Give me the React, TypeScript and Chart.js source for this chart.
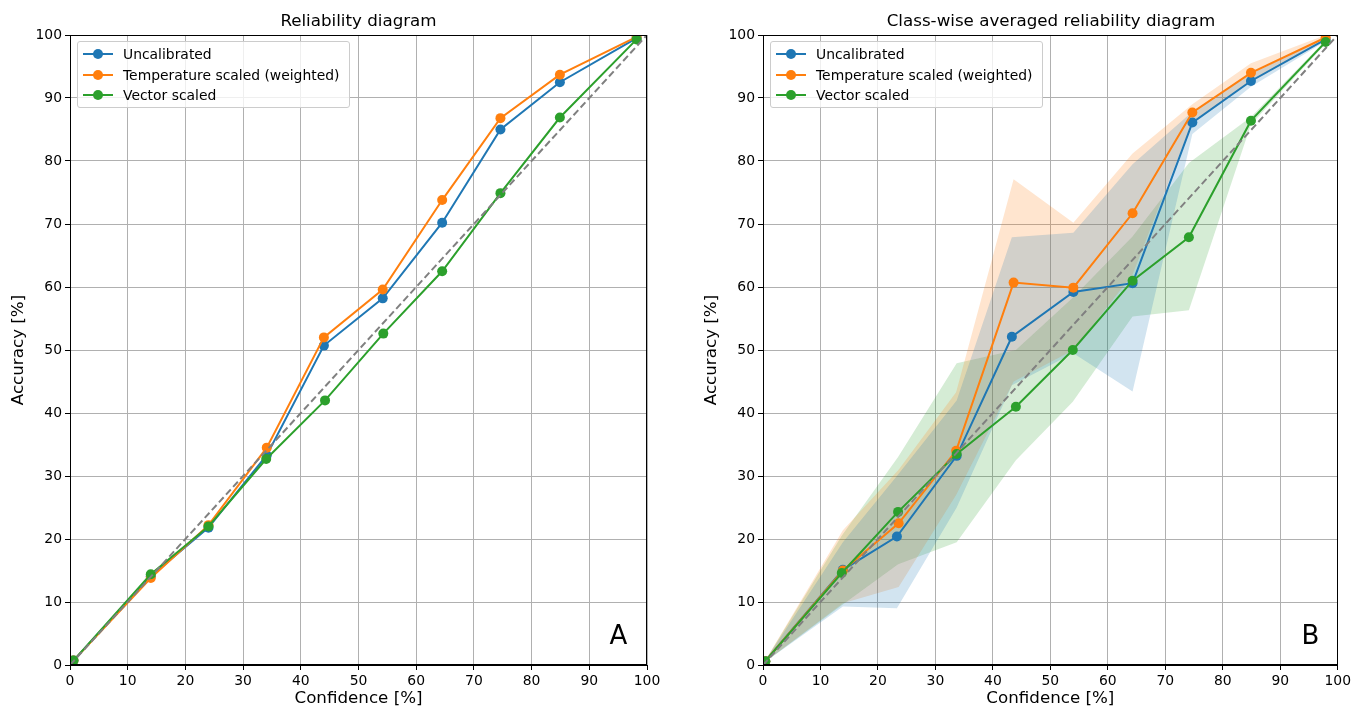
import React, { useEffect, useRef } from "react";
import { Chart, registerables } from "chart.js";

Chart.register(...registerables);
Chart.defaults.font.family = "DejaVu Sans";

// ---------- data ----------
const seriesNames = ["Uncalibrated", "Temperature scaled (weighted)", "Vector scaled"];
const seriesColors = ["#1f77b4", "#ff7f0e", "#2ca02c"];
const bandColors = ["rgba(31,119,180,0.2)", "rgba(255,127,14,0.2)", "rgba(44,160,44,0.2)"];
const tickValues = [0, 10, 20, 30, 40, 50, 60, 70, 80, 90, 100];
const diagonal = [0, 100];
const titles = ["Reliability diagram", "Class-wise averaged reliability diagram"];
const panelLetters = ["A", "B"];

// Panel A: reliability diagram
const aUncalX = [0.6, 14.0, 24.0, 34.1, 44.0, 54.2, 64.5, 74.6, 84.9, 98.2];
const aUncalY = [0.7, 14.1, 21.8, 33.3, 50.7, 58.2, 70.2, 85.0, 92.5, 99.5];
const aTempX = [0.6, 14.0, 24.0, 34.1, 44.0, 54.2, 64.5, 74.6, 84.9, 98.2];
const aTempY = [0.7, 13.8, 22.2, 34.5, 52.0, 59.6, 73.8, 86.8, 93.7, 99.7];
const aVecX = [0.6, 14.0, 24.0, 34.0, 44.2, 54.3, 64.5, 74.6, 84.9, 98.2];
const aVecY = [0.7, 14.4, 22.0, 32.7, 42.0, 52.6, 62.5, 74.9, 86.9, 99.3];

// Panel B: class-wise averaged reliability diagram
const bUncalX = [0.4, 13.9, 23.3, 33.7, 43.3, 54.0, 64.3, 74.7, 84.9, 97.9];
const bUncalY = [0.6, 15.1, 20.4, 33.2, 52.1, 59.2, 60.6, 86.1, 92.7, 99.3];
const bUncalHi = [0.7, 19.5, 30.0, 42.0, 67.9, 68.6, 79.5, 87.8, 93.8, 99.6];
const bUncalLo = [0.5, 9.3, 9.0, 25.0, 44.4, 49.5, 43.4, 84.3, 91.8, 99.0];

const bTempX = [0.4, 13.9, 23.6, 33.6, 43.6, 54.0, 64.3, 74.7, 84.9, 97.9];
const bTempY = [0.6, 15.0, 22.5, 34.0, 60.7, 59.9, 71.7, 87.7, 94.0, 99.6];
const bTempHi = [0.7, 21.4, 31.0, 43.3, 77.1, 70.2, 81.2, 89.0, 95.5, 100.0];
const bTempLo = [0.5, 9.8, 12.4, 27.0, 45.0, 50.0, 62.0, 86.3, 92.5, 99.2];

const bVecX = [0.4, 13.7, 23.5, 33.7, 44.0, 53.9, 64.3, 74.1, 84.9, 97.9];
const bVecY = [0.6, 14.6, 24.3, 33.5, 41.0, 50.0, 61.0, 67.9, 86.4, 98.9];
const bVecHi = [0.7, 20.5, 33.0, 47.9, 50.0, 58.3, 68.0, 79.7, 87.0, 99.2];
const bVecLo = [0.5, 9.5, 16.0, 19.5, 32.5, 41.8, 55.3, 56.3, 85.8, 98.6];

// ---------- helpers ----------
const pts = (xs: number[], ys: number[]) => xs.map((x, i) => ({ x, y: ys[i] }));

type Series = { x: number[]; y: number[]; hi?: number[]; lo?: number[] };

const framePlugin = {
  id: "frame",
  afterDraw(chart: any) {
    const { ctx, chartArea } = chart;
    const l = Math.round(chartArea.left) + 0.5;
    const t = Math.round(chartArea.top) + 0.5;
    const r = Math.round(chartArea.right) - 0.5;
    const b = Math.round(chartArea.bottom) - 0.5;
    ctx.save();
    ctx.strokeStyle = "#000";
    ctx.lineWidth = 1;
    ctx.strokeRect(l, t, r - l, b - t);
    ctx.restore();
  },
};

function makeConfig(series: Series[], rightPad: number) {
  const datasets: any[] = [];
  series.forEach((s, i) => {
    datasets.push({
      label: seriesNames[i],
      data: pts(s.x, s.y),
      borderColor: seriesColors[i],
      backgroundColor: seriesColors[i],
      pointBackgroundColor: seriesColors[i],
      pointBorderColor: seriesColors[i],
      pointBorderWidth: 0,
      pointRadius: 5,
      borderWidth: 2,
      fill: false,
      tension: 0,
      order: 3 - i,
    });
  });
  datasets.push({
    label: "diagonal",
    data: pts(diagonal, diagonal),
    borderColor: "#808080",
    borderDash: [7, 3.5],
    borderWidth: 2,
    pointRadius: 0,
    fill: false,
    order: -1,
  });
  series.forEach((s, i) => {
    if (!s.hi || !s.lo) return;
    datasets.push({
      label: "hi" + i,
      data: pts(s.x, s.hi),
      borderColor: "transparent",
      borderWidth: 0,
      pointRadius: 0,
      fill: false,
      order: 10,
    });
    datasets.push({
      label: "lo" + i,
      data: pts(s.x, s.lo),
      borderColor: "transparent",
      backgroundColor: bandColors[i],
      borderWidth: 0,
      pointRadius: 0,
      fill: "-1",
      order: 10,
    });
  });

  const axisCommon = (titleText: string, isX: boolean) => ({
    type: "linear",
    min: 0,
    max: 100,
    afterBuildTicks: (scale: any) => {
      scale.ticks = tickValues.map((v) => ({ value: v }));
    },
    afterFit: (scale: any) => {
      if (isX) scale.height = 44;
      else scale.width = 70;
    },
    ticks: {
      color: "#000",
      font: { size: 13.9 },
      padding: 3,
      maxRotation: 0,
      autoSkip: false,
      callback: (v: number) => String(v),
    },
    grid: {
      color: "#b0b0b0",
      lineWidth: 1,
      drawTicks: true,
      tickLength: 5,
      tickColor: "#000",
      tickWidth: 1,
    },
    border: { display: true, color: "#000", width: 1 },
    title: {
      display: true,
      text: titleText,
      color: "#000",
      font: { size: 16.7 },
      padding: isX ? { top: 0, bottom: 0 } : { top: 9, bottom: 0 },
    },
  });

  return {
    type: "line",
    data: { datasets },
    options: {
      animation: false,
      responsive: false,
      devicePixelRatio: 1,
      layout: { padding: { left: 0, right: rightPad, top: 35, bottom: 0 } },
      scales: {
        x: axisCommon("Confidence [%]", true),
        y: axisCommon("Accuracy [%]", false),
      },
      plugins: {
        legend: { display: false },
        tooltip: { enabled: false },
        title: { display: false },
      },
    },
    plugins: [framePlugin],
  };
}

function ChartCanvas(props: { left: number; width: number; config: any }) {
  const ref = useRef<HTMLCanvasElement | null>(null);
  useEffect(() => {
    if (!ref.current) return;
    const chart = new Chart(ref.current, props.config);
    return () => chart.destroy();
  }, []);
  return (
    <canvas
      ref={ref}
      width={props.width}
      height={709}
      style={{ position: "absolute", left: props.left, top: 0, width: props.width, height: 709 }}
    />
  );
}

function Legend(props: { left: number; top: number }) {
  const rows = [11.6, 32.6, 53.3];
  return (
    <div
      style={{
        position: "absolute",
        left: props.left,
        top: props.top,
        width: 273,
        height: 67,
        boxSizing: "border-box",
        background: "rgba(255,255,255,0.8)",
        border: "1px solid #cccccc",
        borderRadius: 3,
        fontFamily: "DejaVu Sans",
        fontSize: 13.9,
        color: "#000",
      }}
    >
      {seriesNames.map((name, i) => (
        <div key={name}>
          <svg
            width={32}
            height={12}
            style={{ position: "absolute", left: 4.5, top: rows[i] - 6 }}
          >
            <line x1={0} y1={6} x2={30} y2={6} stroke={seriesColors[i]} strokeWidth={2} />
            <circle cx={15} cy={6} r={5} fill={seriesColors[i]} />
          </svg>
          <div
            style={{
              position: "absolute",
              left: 45,
              top: rows[i] - 10,
              height: 20,
              lineHeight: "20px",
              whiteSpace: "nowrap",
            }}
          >
            {name}
          </div>
        </div>
      ))}
    </div>
  );
}

function Title(props: { cx: number; text: string }) {
  return (
    <div
      style={{
        position: "absolute",
        left: props.cx - 300,
        top: 10,
        width: 600,
        height: 20,
        lineHeight: "20px",
        textAlign: "center",
        fontFamily: "DejaVu Sans",
        fontSize: 16.7,
        color: "#000",
        whiteSpace: "nowrap",
      }}
    >
      {props.text}
    </div>
  );
}

function PanelLabel(props: { cx: number; text: string }) {
  return (
    <div
      style={{
        position: "absolute",
        left: props.cx - 20,
        top: 622,
        width: 40,
        height: 26,
        lineHeight: "26px",
        textAlign: "center",
        fontFamily: "DejaVu Sans",
        fontSize: 26,
        color: "#000",
      }}
    >
      {props.text}
    </div>
  );
}

export default function App() {
  const configA = makeConfig(
    [
      { x: aUncalX, y: aUncalY },
      { x: aTempX, y: aTempY },
      { x: aVecX, y: aVecY },
    ],
    46
  );
  const configB = makeConfig(
    [
      { x: bUncalX, y: bUncalY, hi: bUncalHi, lo: bUncalLo },
      { x: bTempX, y: bTempY, hi: bTempHi, lo: bTempLo },
      { x: bVecX, y: bVecY, hi: bVecHi, lo: bVecLo },
    ],
    15
  );
  return (
    <div
      style={{
        position: "absolute",
        left: 0,
        top: 0,
        width: 1354,
        height: 709,
        overflow: "hidden",
        background: "#fff",
      }}
    >
      <ChartCanvas left={0} width={693} config={configA} />
      <ChartCanvas left={693} width={661} config={configB} />
      <Title cx={358.5} text={titles[0]} />
      <Title cx={1051} text={titles[1]} />
      <Legend left={77} top={41} />
      <Legend left={770} top={41} />
      <PanelLabel cx={618.5} text={panelLetters[0]} />
      <PanelLabel cx={1310.5} text={panelLetters[1]} />
    </div>
  );
}
